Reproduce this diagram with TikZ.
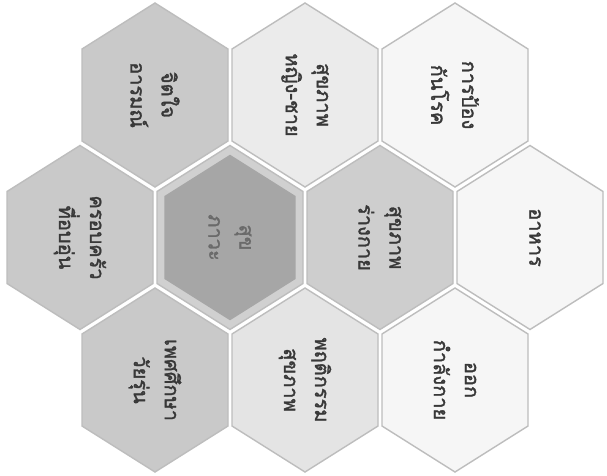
\documentclass[tikz,border=0pt]{standalone}
\usepackage{fontspec}
\newfontfamily\thaifont[Script=Thai,AutoFakeBold=1.6]{Loma}
\usetikzlibrary{positioning}
\definecolor{hexline}{HTML}{BDBDBD}
\definecolor{graycell}{HTML}{C9C9C9}
\definecolor{lightcell}{HTML}{E4E4E4}
\definecolor{whitecell}{HTML}{F6F6F6}
\definecolor{ringgray}{HTML}{D0D0D0}
\definecolor{coregray}{HTML}{A6A6A6}
\definecolor{txtgray}{HTML}{383838}

\begin{document}
\begin{tikzpicture}[x=1pt,y=-1pt,
  hexcell/.pic={\path[pic actions] (0,-92) -- (73,-46) -- (73,46) -- (0,92) -- (-73,46) -- (-73,-46) -- cycle;},
  cellline/.style={draw=hexline,line width=1.4pt},
  hexlabel/.style={rotate=-90,align=center,text=txtgray,
    font=\thaifont\bfseries\fontsize{20}{31}\selectfont}]
  \useasboundingbox[fill=white] (0,0) rectangle (607,475);
  % top row
  \pic[cellline,fill=graycell] at (155,95) {hexcell};
  \pic[cellline,fill=lightcell!60!whitecell] at (305,95) {hexcell};
  \pic[cellline,fill=whitecell] at (455,95) {hexcell};
  % middle row
  \pic[cellline,fill=graycell] at (80,237.5) {hexcell};
  \pic[cellline,fill=ringgray] at (230,237.5) {hexcell};
  \pic[fill=coregray,scale=0.9] at (230,237.5) {hexcell};
  \pic[cellline,fill=graycell!90!white] at (380,237.5) {hexcell};
  \pic[cellline,fill=whitecell] at (530,237.5) {hexcell};
  % bottom row
  \pic[cellline,fill=graycell] at (155,380) {hexcell};
  \pic[cellline,fill=lightcell] at (305,380) {hexcell};
  \pic[cellline,fill=whitecell] at (455,380) {hexcell};

  \node[hexlabel] (mind) at (155,95) {จิตใจ\\อารมณ์};
  \node[hexlabel] (gender) at (305,95) {สุขภาพ\\หญิง-ชาย};
  \node[hexlabel] (disease) at (455,95) {การป้อง\\กันโรค};
  \node[hexlabel] (family) at (80,237.5) {ครอบครัว\\ที่อบอุ่น};
  \node[hexlabel,text=txtgray!75] (core) at (230,237.5) {สุข\\ภาวะ};
  \node[hexlabel] (body) at (380,237.5) {สุขภาพ\\ร่างกาย};
  \node[hexlabel] (food) at (535,237.5) {อาหาร};
  \node[hexlabel] (sexed) at (155,380) {เพศศึกษา\\วัยรุ่น};
  \node[hexlabel] (habit) at (305,380) {พฤติกรรม\\สุขภาพ};
  \node[hexlabel] (exercise) at (455,380) {ออก\\กำลังกาย};
\end{tikzpicture}
\end{document}
